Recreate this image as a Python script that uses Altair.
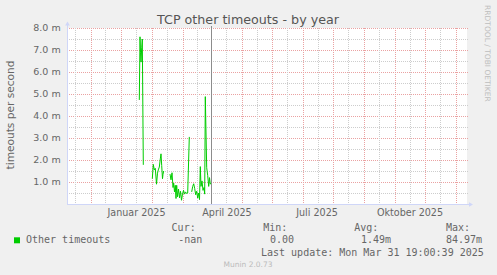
import altair as alt
import pandas as pd

# ---------------- data ----------------
START = pd.Timestamp("2024-10-08")   # left edge of the time axis
SPAN_DAYS = 400

# measured series (days after START, timeouts per second in milli-units)
seg_a_days = [72.3, 73.0, 73.5, 74.0, 74.7, 75.3, 76.3]
seg_a_vals = [4.73, 7.60, 6.90, 6.45, 7.10, 7.50, 1.78]

seg_b_days = [85.3, 86.3, 87.3, 88.3, 89.5, 90.5, 91.3, 92.3, 93.3, 94.0, 94.7, 95.5, 96.0, 96.7]
seg_b_vals = [1.15, 1.80, 1.55, 1.62, 0.90, 1.40, 1.55, 1.68, 2.05, 2.28, 1.75, 1.15, 1.35, 1.50]

seg_c_days = [103.0, 104.0, 105.0, 106.0, 106.7, 107.5, 108.3, 109.0, 109.7, 110.5, 111.5,
              112.5, 113.5, 114.5, 115.5, 116.5, 117.5, 118.5, 119.5, 120.7, 122.3]
seg_c_vals = [1.36, 1.10, 1.42, 0.75, 0.95, 0.55, 0.85, 0.25, 0.85, 0.33, 0.68,
              0.28, 0.58, 0.17, 0.45, 0.62, 0.45, 0.55, 0.48, 0.50, 3.05]

seg_d_days = [124.7, 125.7, 126.7, 127.7, 128.7, 129.7, 130.7, 131.7, 132.5, 133.3, 134.0,
              135.0, 136.0, 137.0, 137.7, 138.3, 139.7, 140.7, 141.7, 142.5, 143.3, 144.0]
seg_d_vals = [0.55, 0.80, 0.92, 0.70, 0.42, 0.58, 0.27, 0.50, 0.20, 1.70, 0.80,
              1.05, 0.62, 0.75, 0.45, 4.88, 1.65, 1.30, 0.80, 1.20, 0.90, 0.95]

month_starts = ["2024-11-01", "2024-12-01", "2025-01-01", "2025-02-01", "2025-03-01",
                "2025-04-01", "2025-05-01", "2025-06-01", "2025-07-01", "2025-08-01",
                "2025-09-01", "2025-10-01", "2025-11-01"]
minor_dates = ["2024-10-16", "2024-11-15", "2024-12-16", "2025-01-16", "2025-02-15",
               "2025-03-16", "2025-04-16", "2025-05-16", "2025-06-16", "2025-07-16",
               "2025-08-16", "2025-09-16", "2025-10-16"]
label_dates = ["2024-12-16T12:00", "2025-03-17", "2025-06-15", "2025-09-16"]
label_texts = ["Januar 2025", "April 2025", "Juli 2025", "Oktober 2025"]
marker_dates = ["2025-03-01"]

y_major = [1, 2, 3, 4, 5, 6, 7, 8]
y_major_labels = ["1.0 m", "2.0 m", "3.0 m", "4.0 m", "5.0 m", "6.0 m", "7.0 m", "8.0 m"]
y_minor = [0.5, 1.5, 2.5, 3.5, 4.5, 5.5, 6.5, 7.5]
Y_MAX = 8

legend_name = "Other timeouts"
legend_heads = ["Cur:", "Min:", "Avg:", "Max:"]
legend_vals = ["-nan", "0.00", "1.49m", "84.97m"]
last_update = "Last update: Mon Mar 31 19:00:39 2025"
title_text = "TCP other timeouts - by year"
y_title = "timeouts per second"

# ---------------- build tables ----------------
def to_day(s):
    return (pd.Timestamp(s) - START) / pd.Timedelta(days=1)

rows = []
for name, ds, vs in [("a", seg_a_days, seg_a_vals), ("b", seg_b_days, seg_b_vals),
                     ("c", seg_c_days, seg_c_vals), ("d", seg_d_days, seg_d_vals)]:
    for d, v in zip(ds, vs):
        rows.append({"seg": name, "day": d, "value": v / 1000.0})
series = pd.DataFrame(rows)

W, H = 400, 176
FONT = "DejaVu Sans"
MONO = "DejaVu Sans Mono"
FONT_COL = "#666666"
AXIS_COL = "#CFD6F8"
GRID_COL = "#CDCDCD"
MGRID_COL = "#EAA2A2"

xs = alt.Scale(domain=[0, SPAN_DAYS], nice=False, zero=False)
ys = alt.Scale(domain=[0, Y_MAX / 1000.0], nice=False, zero=True)
one = pd.DataFrame({"k": [0]})

def xenc(field="day"):
    return alt.X(f"{field}:Q", scale=xs, axis=None)

def yenc(field="value"):
    return alt.Y(f"{field}:Q", scale=ys, axis=None)

h_minor = alt.Chart(pd.DataFrame({"value": [v / 1000.0 for v in y_minor]})).mark_rule(
    color=GRID_COL, strokeDash=[1, 1], strokeWidth=1, yOffset=0.5
).encode(y=yenc(), x=alt.value(0), x2=alt.value(W + 1))

h_major = alt.Chart(pd.DataFrame({"value": [v / 1000.0 for v in y_major]})).mark_rule(
    color=MGRID_COL, strokeDash=[1, 1], strokeWidth=1, yOffset=0.5
).encode(y=yenc(), x=alt.value(0), x2=alt.value(W + 1))

ylabels = alt.Chart(pd.DataFrame({"value": [v / 1000.0 for v in y_major],
                                  "label": y_major_labels})).mark_text(
    font=FONT, fontSize=9.5, color=FONT_COL, align="right", baseline="middle"
).encode(y=yenc(), x=alt.value(-6.3), text="label:N")

v_minor = alt.Chart(pd.DataFrame({"day": [to_day(d) for d in minor_dates]})).mark_rule(
    color=GRID_COL, strokeDash=[1, 1], strokeWidth=1, xOffset=0.5
).encode(x=xenc(), y=alt.value(0), y2=alt.value(H + 2))

v_major = alt.Chart(pd.DataFrame({"day": [to_day(d) for d in month_starts]})).mark_rule(
    color=MGRID_COL, strokeDash=[1, 1], strokeWidth=1, xOffset=0.5
).encode(x=xenc(), y=alt.value(0), y2=alt.value(H + 2))

marker = alt.Chart(pd.DataFrame({"day": [to_day(d) for d in marker_dates]})).mark_rule(
    color="#8C8C8C", strokeWidth=1, xOffset=0.5
).encode(x=xenc(), y=alt.value(-2), y2=alt.value(H))

axis_y = alt.Chart(one).mark_rule(color=AXIS_COL, strokeWidth=1, xOffset=0.5).encode(
    x=alt.value(0), y=alt.value(-4), y2=alt.value(H))
axis_x = alt.Chart(one).mark_rule(color=AXIS_COL, strokeWidth=1, yOffset=0.5).encode(
    y=alt.value(H), x=alt.value(0), x2=alt.value(W + 3))
arrow_up = alt.Chart(one).mark_point(shape="triangle-up", filled=True, color=AXIS_COL,
                                     size=22, opacity=1).encode(
    x=alt.value(0.5), y=alt.value(-4.5))
arrow_right = alt.Chart(one).mark_point(shape="triangle-right", filled=True, color=AXIS_COL,
                                        size=22, opacity=1).encode(
    x=alt.value(W + 4), y=alt.value(H + 0.5))

line = alt.Chart(series).mark_line(color="#00CC00", strokeWidth=1).encode(
    x=xenc(), y=yenc(), detail="seg:N", order="day:Q")

xlabels = alt.Chart(pd.DataFrame({"day": [to_day(d) for d in label_dates],
                                  "label": label_texts})).mark_text(
    font=FONT, fontSize=9.6, color=FONT_COL, align="center", baseline="alphabetic"
).encode(x=xenc(), y=alt.value(H + 11.7), text="label:N")

def txt(text, x, y, font=MONO, size=10, color=FONT_COL, align="left", angle=0,
        baseline="alphabetic"):
    kw = dict(text=text, font=font, fontSize=size, color=color, align=align,
              baseline=baseline)
    if angle:
        kw["angle"] = angle
    return alt.Chart(one).mark_text(**kw).encode(x=alt.value(x), y=alt.value(y))

texts = [
    txt(title_text, 181, -4, font=FONT, size=12.7, color="#555555", align="center"),
    txt(y_title, -52.7, 87, font=FONT, size=10.6, align="center", angle=270),
    txt("RRDTOOL / TOBI OETIKER", 418, 25.4, font=FONT, size=7.5, color="#BEBEBE",
        align="center", angle=90),
    txt(legend_name, -41, 215),
    txt(legend_heads[0], 104.6, 202.7), txt(legend_vals[0], 111.3, 214.7),
    txt(legend_heads[1], 196.3, 202.7), txt(legend_vals[1], 203.0, 215.3),
    txt(legend_heads[2], 287.3, 202.7), txt(legend_vals[2], 294.0, 215.3),
    txt(legend_heads[3], 379.0, 202.7), txt(legend_vals[3], 379.0, 215.3),
    txt(last_update, 194.0, 227.7),
    txt("Munin 2.0.73", 181, 238.7, font=FONT, size=7.5, color="#BBBBBB", align="center"),
]

swatch = alt.Chart(one).mark_square(color="#00CC00", size=36, opacity=1).encode(
    x=alt.value(-50), y=alt.value(212.3))

chart = alt.layer(
    h_minor, h_major, v_minor, v_major, line, marker, axis_y, axis_x,
    arrow_up, arrow_right, ylabels, xlabels, swatch, *texts
).properties(
    width=W, height=H,
    padding={"left": 67, "top": 28, "right": 30, "bottom": 71},
    autosize=alt.AutoSizeParams(type="none"),
    background="#F0F0F0",
).configure_view(fill="white", stroke=None)

chart.save("out.html", embed_options={"renderer": "svg", "actions": False})
